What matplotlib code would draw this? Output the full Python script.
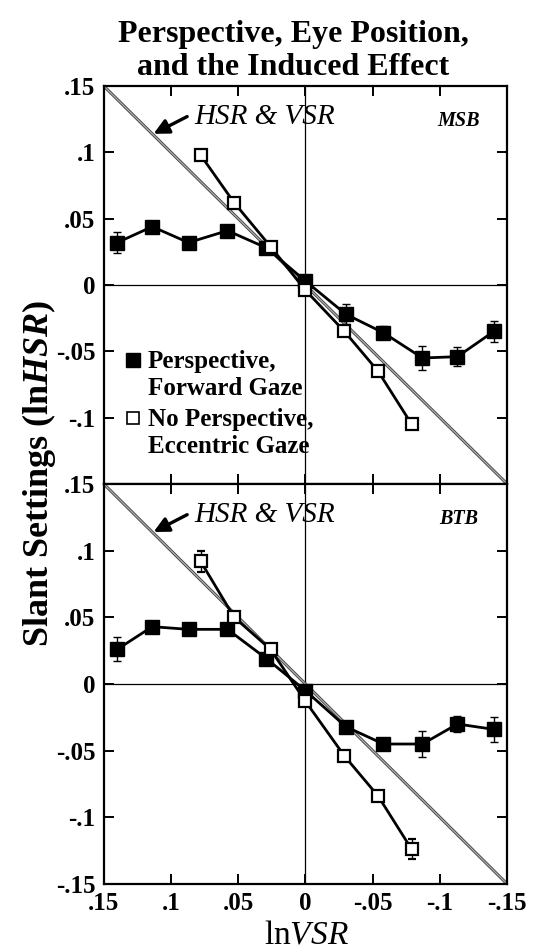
import numpy as np
import matplotlib
matplotlib.use("Agg")
import matplotlib.pyplot as plt
from matplotlib.patches import FancyArrowPatch

plt.rcParams['font.family'] = ['Liberation Serif', 'DejaVu Serif']
plt.rcParams['mathtext.fontset'] = 'custom'
plt.rcParams['mathtext.rm'] = 'Liberation Serif'
plt.rcParams['mathtext.it'] = 'Liberation Serif:italic'
plt.rcParams['mathtext.bf'] = 'Liberation Serif:bold'
plt.rcParams['mathtext.bfit'] = 'Liberation Serif:italic:bold'

# ln VSR positions (x axis runs from +.15 on the left to -.15 on the right)
x_fill = [0.14, 0.114, 0.087, 0.058, 0.029, 0.0, -0.03, -0.058, -0.087, -0.113, -0.14]
x_open = [0.078, 0.053, 0.026, 0.0, -0.029, -0.054, -0.079]

# observer MSB
msb_fill = [0.032, 0.044, 0.032, 0.041, 0.028, 0.003, -0.022, -0.036, -0.055, -0.054, -0.035]
msb_fill_err = [0.008, 0.004, 0.004, 0.004, 0.004, 0.004, 0.0075, 0.005, 0.009, 0.007, 0.008]
msb_open = [0.098, 0.062, 0.029, -0.004, -0.035, -0.065, -0.105]
msb_open_err = [0.003, 0.003, 0.003, 0.003, 0.003, 0.003, 0.003]

# observer BTB
btb_fill = [0.026, 0.043, 0.041, 0.041, 0.019, -0.005, -0.032, -0.045, -0.045, -0.030, -0.034]
btb_fill_err = [0.009, 0.003, 0.003, 0.003, 0.003, 0.003, 0.004, 0.004, 0.010, 0.006, 0.0095]
btb_open = [0.092, 0.050, 0.026, -0.013, -0.054, -0.084, -0.124]
btb_open_err = [0.008, 0.003, 0.003, 0.003, 0.003, 0.003, 0.0075]

tick_vals = [0.15, 0.1, 0.05, 0.0, -0.05, -0.1, -0.15]
tick_text = ['.15', '.1', '.05', '0', '-.05', '-.1', '-.15']
diag = [0.15, -0.15]

fig = plt.figure(figsize=(5.35, 9.52), dpi=100)
ax1 = fig.add_axes([0.194, 0.4916, 0.754, 0.418])
ax2 = fig.add_axes([0.194, 0.0714, 0.754, 0.4202])

panels = [(ax1, msb_fill, msb_fill_err, msb_open, msb_open_err, 'MSB'),
          (ax2, btb_fill, btb_fill_err, btb_open, btb_open_err, 'BTB')]

for ax, yf, ef, yo, eo, name in panels:
    ax.set_xlim(0.15, -0.15)
    ax.set_ylim(-0.15, 0.15)
    ax.axhline(0, color='black', lw=0.9, zorder=1)
    ax.axvline(0, color='black', lw=0.9, zorder=1)

    # HSR = VSR diagonal, drawn as a grey double line
    ax.plot(diag, diag, color='#4a4a4a', lw=2.2, zorder=2, solid_capstyle='butt')
    ax.plot(diag, diag, color='#b5b5b5', lw=0.8, zorder=2, solid_capstyle='butt')

    ax.errorbar(x_fill, yf, yerr=ef, color='black', lw=2.0, marker='s', ms=10.5,
                mfc='black', mec='black', ecolor='black', elinewidth=1.0,
                capsize=3, capthick=1.0, zorder=3)
    ax.errorbar(x_open, yo, yerr=eo, color='black', lw=2.0, marker='s', ms=9,
                mfc='white', mec='black', mew=1.6, ecolor='black', elinewidth=1.0,
                capsize=3, capthick=1.0, zorder=4)

    ax.text(0.083, 0.127, 'HSR & VSR', fontsize=21, fontstyle='italic',
            ha='left', va='center')
    ax.add_patch(FancyArrowPatch((0.088, 0.127), (0.113, 0.114),
                                 arrowstyle='-|>,head_length=9,head_width=4.5',
                                 shrinkA=0, shrinkB=0,
                                 color='black', lw=2.4, zorder=5))
    ax.text(-0.114, 0.124, name, fontsize=14.5, fontstyle='italic',
            fontweight='bold', ha='center', va='center')

    for side in ax.spines.values():
        side.set_linewidth(1.6)
    ax.set_xticks(tick_vals)
    ax.set_yticks(tick_vals)
    ax.tick_params(direction='in', length=7, width=1.4, top=True, right=True,
                   labelsize=18, pad=6)

ax1.set_yticklabels(tick_text[:-1] + [''])
ax1.set_xticklabels([])
ax2.set_yticklabels(tick_text)
ax2.set_xticklabels(tick_text)
for lab in ax1.get_yticklabels() + ax2.get_yticklabels() + ax2.get_xticklabels():
    lab.set_fontweight('bold')

# legend keys and text in the upper panel
ax1.plot([0.072], [0.312], marker='s', ms=10, color='black', ls='none',
         transform=ax1.transAxes, clip_on=False)
ax1.plot([0.072], [0.166], marker='s', ms=9, mfc='white', mec='black', mew=1.2,
         ls='none', transform=ax1.transAxes, clip_on=False)
leg_lines = [('Perspective,', 0.307), ('Forward Gaze', 0.241),
             ('No Perspective,', 0.161), ('Eccentric Gaze', 0.093)]
for txt, yy in leg_lines:
    ax1.text(0.109, yy, txt, transform=ax1.transAxes, fontsize=18,
             fontweight='bold', ha='left', va='center')

fig.text(0.548, 0.964, 'Perspective, Eye Position,', fontsize=23,
         fontweight='bold', ha='center', va='center')
fig.text(0.548, 0.929, 'and the Induced Effect', fontsize=23,
         fontweight='bold', ha='center', va='center')

fig.text(0.073, 0.503, r'$\mathbf{Slant\ Settings\ (ln}\mathbfit{HSR}\mathbf{)}$',
         fontsize=26, rotation=90, ha='center', va='center')
fig.text(0.573, 0.018, r'$\mathrm{ln}\mathit{VSR}$', fontsize=24,
         ha='center', va='center')

fig.savefig('out.png', dpi=100)
